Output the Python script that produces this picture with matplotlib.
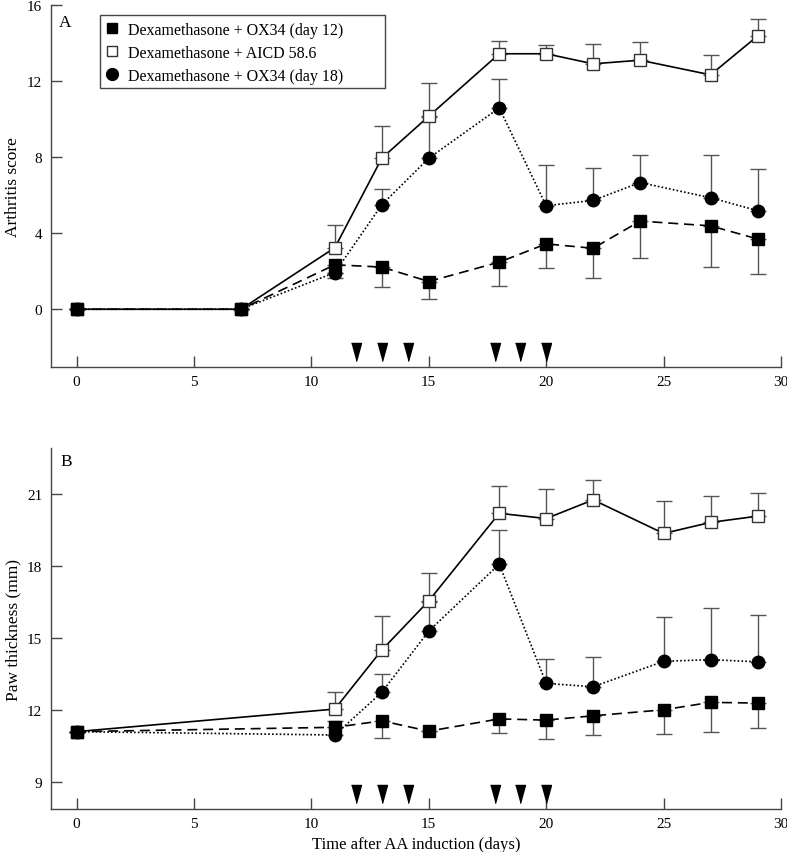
import matplotlib
matplotlib.use("Agg")
import matplotlib.pyplot as plt
from matplotlib.lines import Line2D
from matplotlib.patches import Rectangle
import numpy as np

plt.rcParams['font.family'] = ['Liberation Serif', 'DejaVu Serif']

# ---------------- Data ----------------
labels = ["Dexamethasone + OX34 (day 12)",
          "Dexamethasone + AICD 58.6",
          "Dexamethasone + OX34 (day 18)"]

# Panel A: arthritis score
days_a = [0, 7, 11, 13, 15, 18, 20, 22, 24, 27, 29]
ox12_a = [0, 0, 2.34, 2.22, 1.46, 2.48, 3.44, 3.21, 4.64, 4.39, 3.70]
ox12_a_lo = [0, 0, 0.67, 1.06, 0.94, 1.27, 1.27, 1.56, 1.92, 2.19, 1.86]
aicd_a = [0, 0, 3.24, 7.95, 10.16, 13.45, 13.45, 12.92, 13.11, 12.34, 14.38]
aicd_a_hi = [0, 0, 1.22, 1.72, 1.74, 0.65, 0.44, 1.06, 0.94, 1.06, 0.92]
ox18_a = [0, 0, 1.93, 5.50, 7.95, 10.60, 5.45, 5.73, 6.67, 5.87, 5.19]
ox18_a_hi = [0, 0, 0, 0.84, 2.15, 1.50, 2.14, 1.70, 1.44, 2.24, 2.19]

# Panel B: paw thickness (mm)
days_b = [0, 11, 13, 15, 18, 20, 22, 25, 27, 29]
ox12_b = [11.1, 11.28, 11.55, 11.12, 11.63, 11.58, 11.76, 12.01, 12.32, 12.29]
ox12_b_lo = [0, 0, 0.72, 0, 0.59, 0.78, 0.78, 1.00, 1.25, 1.05]
aicd_b = [11.1, 12.04, 14.50, 16.55, 20.20, 19.98, 20.76, 19.36, 19.82, 20.08]
aicd_b_hi = [0, 0.71, 1.40, 1.15, 1.15, 1.22, 0.84, 1.34, 1.08, 0.96]
ox18_b = [11.1, 10.96, 12.74, 15.29, 18.08, 13.11, 12.97, 14.03, 14.10, 14.01]
ox18_b_hi = [0, 0.59, 0.76, 1.20, 1.42, 1.01, 1.26, 1.84, 2.15, 1.95]

# Treatment days (arrowheads)
treat_days = [11.9, 13.0, 14.1, 17.8, 18.9, 20.0]
arrow_y_a = -2.24
arrow_y_b = 8.5

# ---------------- Figure ----------------
fig = plt.figure(figsize=(7.87, 8.53), dpi=100)
axA = fig.add_axes([0.0644, 0.5686, 0.928, 0.4240])
axB = fig.add_axes([0.0644, 0.0504, 0.928, 0.4232])

ecol = '#555555'
ms = 8.5
arrow_marker = [(-0.55, 1.0), (0.55, 1.0), (0.0, -1.0)]


def draw(ax, days, s12, s12lo, saicd, saicdhi, s18, s18hi):
    z = np.zeros(len(days))
    ax.errorbar(days, s12, yerr=[s12lo, z], fmt='none', ecolor=ecol,
                elinewidth=1.0, capsize=5.5, capthick=1.0, zorder=2)
    ax.errorbar(days, saicd, yerr=[z, saicdhi], fmt='none', ecolor=ecol,
                elinewidth=1.0, capsize=5.5, capthick=1.0, zorder=2)
    ax.errorbar(days, s18, yerr=[z, s18hi], fmt='none', ecolor=ecol,
                elinewidth=1.0, capsize=5.5, capthick=1.0, zorder=2)
    ax.plot(days, s12, color='black', lw=1.2, ls=(0, (6, 3.5)),
            marker='s', ms=ms, mfc='black', mec='black', zorder=4)
    ax.plot(days, saicd, color='black', lw=1.2, ls='-',
            marker='s', ms=ms, mfc='white', mec='#333333', mew=1.0, zorder=3)
    ax.plot(days, s18, color='black', lw=1.2, ls=(0, (1, 1.3)),
            marker='o', ms=ms + 0.5, mfc='black', mec='black', zorder=4)


def style(ax):
    for s in ['top', 'right']:
        ax.spines[s].set_visible(False)
    for s in ['left', 'bottom']:
        ax.spines[s].set_color('#444444')
        ax.spines[s].set_linewidth(1.0)
    ax.tick_params(direction='in', length=8, width=1.0, color='#444444',
                   labelsize=11, pad=6)
    ax.set_xlim(-1.1, 30)
    ax.set_xticks([0, 5, 10, 15, 20, 25, 30])


draw(axA, days_a, ox12_a, ox12_a_lo, aicd_a, aicd_a_hi, ox18_a, ox18_a_hi)
draw(axB, days_b, ox12_b, ox12_b_lo, aicd_b, aicd_b_hi, ox18_b, ox18_b_hi)

axA.plot(treat_days, [arrow_y_a] * len(treat_days), ls='none',
         marker=arrow_marker, ms=13, color='black', zorder=5)
axB.plot(treat_days, [arrow_y_b] * len(treat_days), ls='none',
         marker=arrow_marker, ms=13, color='black', zorder=5)

style(axA)
style(axB)
axA.set_ylim(-3.04, 16)
axA.set_yticks([0, 4, 8, 12, 16])
axB.set_ylim(7.875, 22.92)
axB.set_yticks([9, 12, 15, 18, 21])

axA.set_ylabel("Arthritis score", fontsize=12.5)
axB.set_ylabel("Paw thickness (mm)", fontsize=12.5)
axA.yaxis.set_label_coords(-0.040, 0.5)
axB.yaxis.set_label_coords(-0.040, 0.5)
axB.set_xlabel("Time after AA induction (days)", fontsize=12, labelpad=4)

axA.text(0.011, 0.975, "A", transform=axA.transAxes, fontsize=12.5, ha='left', va='top')
axB.text(0.013, 0.985, "B", transform=axB.transAxes, fontsize=12.5, ha='left', va='top')

# legend (marker only) with a separately drawn frame
lh = [Line2D([], [], ls='none', marker='s', ms=7.5, mfc='black', mec='black'),
      Line2D([], [], ls='none', marker='s', ms=7.5, mfc='white', mec='#333333'),
      Line2D([], [], ls='none', marker='o', ms=8.5, mfc='black', mec='black')]
leg = axA.legend(lh, labels, loc='upper left', bbox_to_anchor=(0.0675, 0.972),
                 fontsize=11.5, frameon=False, handlelength=0.8,
                 handletextpad=0.55, borderpad=0.38, labelspacing=0.44,
                 borderaxespad=0.0)
axA.add_patch(Rectangle((0.0675, 0.771), 0.390, 0.201, transform=axA.transAxes,
                        fill=False, edgecolor='#444444', lw=1.0, zorder=6,
                        clip_on=False))

fig.savefig("out.png", dpi=100)
